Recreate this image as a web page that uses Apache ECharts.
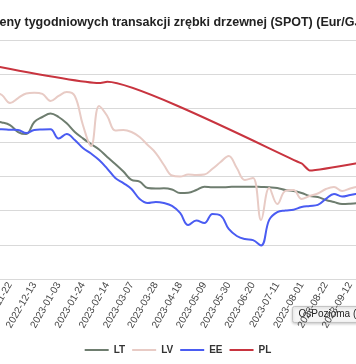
<!DOCTYPE html>
<html>
<head>
<meta charset="utf-8">
<script src="https://cdn.jsdelivr.net/npm/echarts/dist/echarts.min.js"></script>
<style>
html,body{margin:0;padding:0;width:356px;height:364px;overflow:hidden;background:#fff;}
#chart{position:absolute;left:-122px;top:0;width:600px;height:364px;}
</style>
</head>
<body>
<div id="chart"></div>
<script>
const titleText = 'Ceny tygodniowych transakcji zrębki drzewnej (SPOT) (Eur/GJ)';
const dates = ['2022-11-01','2022-11-08','2022-11-15','2022-11-22','2022-11-29','2022-12-06','2022-12-13','2022-12-20','2022-12-27',
  '2023-01-03','2023-01-10','2023-01-17','2023-01-24','2023-01-31','2023-02-07','2023-02-14','2023-02-21','2023-02-28',
  '2023-03-07','2023-03-14','2023-03-21','2023-03-28','2023-04-04','2023-04-11','2023-04-18','2023-04-25','2023-05-02',
  '2023-05-09','2023-05-16','2023-05-23','2023-05-30','2023-06-06','2023-06-13','2023-06-20','2023-06-27','2023-07-04',
  '2023-07-11','2023-07-18','2023-07-25','2023-08-01','2023-08-08','2023-08-15','2023-08-22','2023-08-29','2023-09-05',
  '2023-09-12','2023-09-19'];
const seriesNames = ['LT','LV','EE','PL'];
const LT = [9.26,9.23,9.17,9.02,8.61,8.49,9.20,9.49,9.70,9.49,9.12,8.61,8.24,7.91,7.59,7.15,6.74,6.30,5.80,5.71,5.33,5.30,5.31,5.24,5.04,5.05,5.21,5.41,5.37,5.37,5.39,5.41,5.41,5.41,5.39,5.37,5.33,5.21,5.16,5.04,4.86,4.80,4.63,4.51,4.39,4.41,4.45];
const LV = [11.07,10.98,10.78,10.31,10.60,10.87,10.91,10.84,10.43,10.72,10.95,10.72,9.02,7.79,10.13,9.55,8.70,8.73,8.61,8.32,7.85,7.38,6.68,6.06,6.00,6.12,6.09,6.12,6.46,6.85,7.21,6.50,5.80,5.92,3.46,5.33,4.39,5.16,5.21,4.69,4.86,5.01,5.27,5.39,5.16,5.30,5.42];
const EE = [8.79,8.77,8.77,8.74,8.73,8.55,8.73,8.76,8.77,8.23,8.49,8.14,7.67,7.35,6.97,6.47,5.92,5.62,5.27,4.69,4.45,4.51,4.45,4.28,3.87,3.16,3.43,3.28,3.81,3.72,2.93,2.52,2.34,2.28,1.96,3.46,3.92,4.01,4.06,4.22,4.28,4.34,4.69,4.98,4.83,4.92,5.01];
const PL = [12.58,null,null,null,null,null,null,null,null,null,null,null,null,null,11.48,11.55,null,null,null,null,null,null,null,null,null,null,null,null,null,null,null,null,null,null,null,null,null,null,null,6.77,6.36,null,null,null,null,null,6.80];
const colors = ['#6e7d6f','#e8cbc5','#4a5cf2','#c8343f'];
const tooltipLabel = 'OśPozioma (kategorii)';

const FONT = '"Liberation Sans", Arial, sans-serif';
const chart = echarts.init(document.getElementById('chart'), null, {renderer:'canvas'});
const data = [LT, LV, EE, PL];
chart.setOption({
  animation:false,
  color:colors,
  title:{text:titleText,left:'center',top:11,textStyle:{fontFamily:FONT,fontSize:12.5,fontWeight:'bold',color:'#222'}},
  legend:{top:340,left:'center',icon:'rect',itemWidth:24,itemHeight:2,itemGap:7,
    data:seriesNames,
    textStyle:{fontFamily:FONT,fontSize:10,fontWeight:'bold',color:'#333'}},
  grid:{left:107.7,right:119.7,top:40,bottom:85,containLabel:false},
  xAxis:{type:'category',boundaryGap:false,data:dates,
    axisLine:{lineStyle:{color:'#d9d9d9',width:1}},
    axisTick:{show:false},
    axisLabel:{rotate:60,interval:function(i){return i%3===0;},fontFamily:FONT,fontSize:10,color:'#444',margin:4}},
  yAxis:{type:'value',min:0,max:14,interval:2,
    axisLabel:{show:false},axisLine:{show:false},axisTick:{show:false},
    splitLine:{lineStyle:{color:'#d9d9d9',width:1}}},
  series:seriesNames.map((n,k)=>({
    name:n,type:'line',data:data[k],symbol:'none',smooth:n==='PL'?0.15:0.4,connectNulls:true,
    lineStyle:{width:2,color:colors[k]},itemStyle:{color:colors[k]}
  })),
  graphic:[{
    type:'group',left:414,top:306,
    children:[
      {type:'rect',shape:{x:0,y:0,width:120,height:16,r:2},
       style:{fill:'#f6f6f6',stroke:'#c4c4c4',lineWidth:1,shadowBlur:3,shadowColor:'rgba(0,0,0,0.2)',shadowOffsetY:1}},
      {type:'text',x:6,y:3,style:{text:tooltipLabel,fontFamily:FONT,fontSize:10,fill:'#222'}}
    ]
  }]
});
</script>
</body>
</html>
